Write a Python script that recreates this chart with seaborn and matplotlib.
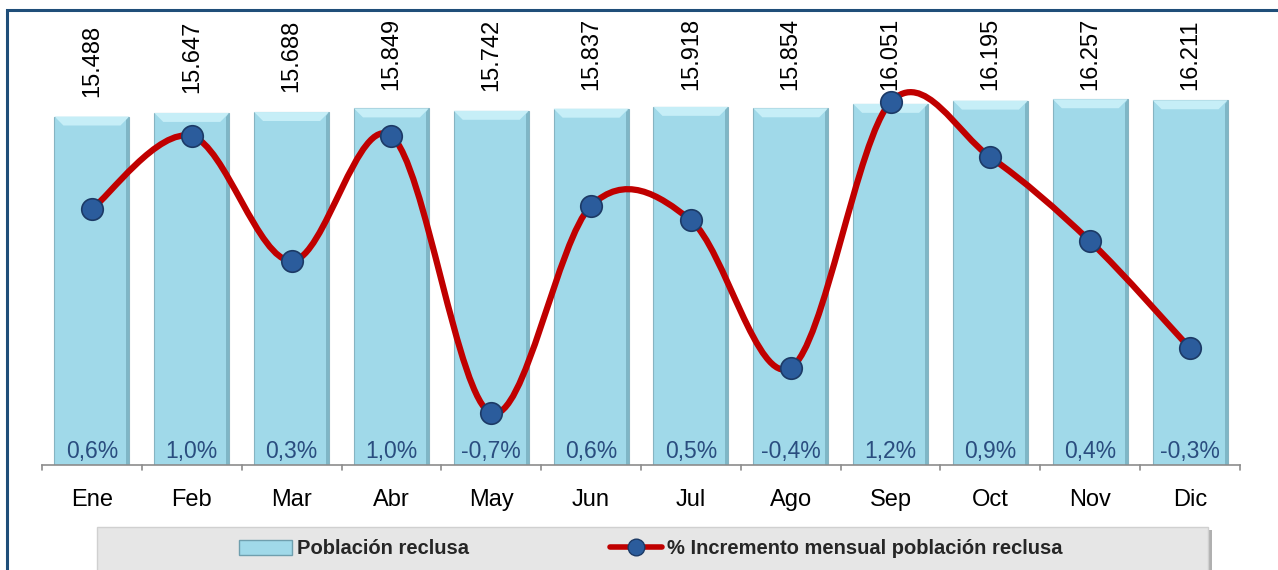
import matplotlib
matplotlib.use("Agg")
import matplotlib.pyplot as plt
from matplotlib.patches import Polygon, Rectangle, PathPatch
from matplotlib.path import Path
from matplotlib.lines import Line2D
import numpy as np
import pandas as pd
import seaborn as sns

# Data
months = ["Ene", "Feb", "Mar", "Abr", "May", "Jun",
          "Jul", "Ago", "Sep", "Oct", "Nov", "Dic"]
poblacion = [15488, 15647, 15688, 15849, 15742, 15837,
             15918, 15854, 16051, 16195, 16257, 16211]
incremento = [0.58, 1.03, 0.26, 1.03, -0.68, 0.60,
              0.51, -0.40, 1.24, 0.90, 0.38, -0.28]

df = pd.DataFrame({"mes": months, "poblacion": poblacion, "incremento": incremento})

sns.set_theme(style="white")
plt.rcParams["font.family"] = ["Liberation Sans", "DejaVu Sans"]

BAR_FACE = "#a0d9e9"
BAR_TOP = "#c6eef7"
BAR_SIDE = "#7fb6c6"
LINE_RED = "#c00000"
MARKER_BLUE = "#2b5c9c"
LABEL_BLUE = "#2a4d7f"

W, H = 1278, 570
fig = plt.figure(figsize=(W / 100, H / 100), dpi=100)
ax = fig.add_axes([42 / W, 1 - 465 / H, (1240 - 42) / W, (465 - 60) / H])

sns.barplot(data=df, x="mes", y="poblacion", ax=ax, color=BAR_FACE,
            width=0.75, saturation=1, edgecolor="#86b4c2", linewidth=0.8)
ax.set_ylim(0, 18000)
ax.set_xlim(-0.5, len(months) - 0.5)

# bevel effect on each bar
dx, dy = 0.09, 400
for p in ax.patches:
    x0, y0 = p.get_x(), p.get_y()
    x1, y1 = x0 + p.get_width(), y0 + p.get_height()
    ax.add_patch(Polygon([(x0, y1), (x1, y1), (x1 - dx, y1 - dy), (x0 + dx, y1 - dy)],
                         closed=True, facecolor=BAR_TOP, edgecolor="none", zorder=2.5))
    ax.add_patch(Polygon([(x1, y1), (x1, y0), (x1 - 0.03, y0), (x1 - 0.03, y1 - dy * 0.4)],
                         closed=True, facecolor=BAR_SIDE, edgecolor="none", zorder=2.5))

# value labels above the bars, kept inside the chart area at the top
label_ceiling = H - 90  # display y of the highest allowed label base
for i, v in enumerate(poblacion):
    y_disp = ax.transData.transform((i, v))[1]
    off_px = min(20, label_ceiling - y_disp)
    ax.annotate(f"{v:,}".replace(",", "."), (i, v), xytext=(0, off_px * 0.72),
                textcoords="offset points", rotation=90, ha="center", va="bottom",
                fontsize=17, color="black")

ax.set_xlabel("")
ax.set_ylabel("")
ax.set_yticks([])
for s in ["left", "right", "top"]:
    ax.spines[s].set_visible(False)
ax.spines["bottom"].set_color("#8c8c8c")
ax.spines["bottom"].set_linewidth(1.2)
ax.tick_params(axis="x", length=0, labelsize=17, colors="black", pad=17)
ax.set_xticks(range(len(months)), months)
# tick marks between categories
for b in np.arange(-0.5, len(months)):
    ax.plot([b, b], [0, -0.012], transform=ax.get_xaxis_transform(),
            color="#8c8c8c", lw=1.2, clip_on=False)

# secondary axis with smoothed line
ax2 = ax.twinx()
ax2.set_ylim(-1.0, 1.5)
ax2.set_yticks([])
for s in ax2.spines.values():
    s.set_visible(False)

xs = np.arange(len(months), dtype=float)
ys = np.array(incremento)
pts = np.column_stack([xs, ys])
verts = [tuple(pts[0])]
codes = [Path.MOVETO]
n = len(pts)
for i in range(n - 1):
    p0 = pts[max(i - 1, 0)]
    p1 = pts[i]
    p2 = pts[i + 1]
    p3 = pts[min(i + 2, n - 1)]
    c1 = p1 + (p2 - p0) / 6
    c2 = p2 - (p3 - p1) / 6
    verts += [tuple(c1), tuple(c2), tuple(p2)]
    codes += [Path.CURVE4] * 3
ax2.add_patch(PathPatch(Path(verts, codes), facecolor="none", edgecolor=LINE_RED,
                        lw=4.5, capstyle="round", joinstyle="round", zorder=3,
                        clip_on=False))
sns.scatterplot(data=df, x=xs, y="incremento", ax=ax2, s=240, color=MARKER_BLUE,
                edgecolor="#1c3a66", linewidth=1.2, zorder=4, clip_on=False, legend=False)
ax2.set_ylabel("")

# percentage labels at bar bases
for i, v in enumerate(incremento):
    ax.text(i, 0.034, f"{v:.1f}%".replace(".", ","), transform=ax.get_xaxis_transform(),
            ha="center", va="center", fontsize=16.5, color=LABEL_BLUE, zorder=5)

# outer frame
fig.patches.append(Rectangle((7 / W, -0.05), 1.1, 1 - 10 / H + 0.05, transform=fig.transFigure,
                             fill=False, edgecolor="#1f4e79", lw=2.2))

# legend box
fig.patches.append(Rectangle((99 / W, -0.05), (1212 - 99) / W, 1 - 527 / H + 0.05 - 0.006,
                             transform=fig.transFigure, facecolor="#b0b0b0",
                             edgecolor="none", zorder=0))
fig.patches.append(Rectangle((97 / W, -0.05), (1208 - 97) / W, 1 - 527 / H + 0.05,
                             transform=fig.transFigure, facecolor="#e6e6e6",
                             edgecolor="#d0d0d0", lw=1, zorder=1))

handles = [
    Rectangle((0, 0), 1, 1, facecolor=BAR_FACE, edgecolor="#6f9fae", lw=1),
    Line2D([0], [0], color=LINE_RED, lw=4, marker="o", markersize=12,
           markerfacecolor=MARKER_BLUE, markeredgecolor="#1c3a66"),
]
leg = fig.legend(handles, ["Población reclusa", "% Incremento mensual población reclusa"],
                 loc="center", bbox_to_anchor=(651 / W, 1 - 549 / H), ncol=2,
                 frameon=False, handlelength=2.6, handleheight=0.7, handletextpad=0.25,
                 columnspacing=7.0,
                 prop={"family": ["Liberation Sans", "DejaVu Sans"],
                       "weight": "bold", "size": 14.5})

fig.savefig("out.png", dpi=100)
